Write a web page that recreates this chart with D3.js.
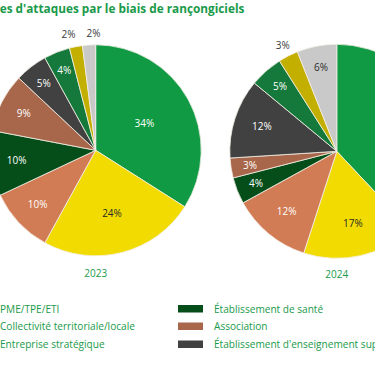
<!DOCTYPE html>
<html><head><meta charset="utf-8">
<script src="https://cdn.jsdelivr.net/npm/d3@7"></script>
<style>
html,body{margin:0;padding:0;background:#fff;overflow:hidden}
svg{display:block}
text{font-family:"Open Sans",sans-serif}
</style></head>
<body>
<svg id="c" width="375" height="366"></svg>
<script>
const titleText = "es d'attaques par le biais de rançongiciels";
const years = ["2023", "2024"];
const categories = ["PME/TPE/ETI", "Collectivité territoriale/locale", "Entreprise stratégique",
  "Établissement de santé", "Association", "Établissement d'enseignement supérieur",
  "Autre (1)", "Autre (2)", "Autre (3)"];
const values2023 = [34, 24, 10, 10, 9, 5, 4, 2, 2];
const values2024 = [38, 17, 12, 4, 3, 12, 5, 3, 6];
const colors = ["#0f9a43", "#f1db00", "#d27c55", "#054e1a", "#a8674a", "#414141", "#14793a", "#c2af00", "#c9c9c9"];
const visibleLegend = 6;

const svg = d3.select("#c");
const green = "#1a9a4a";

svg.append("text").attr("x", -0.3).attr("y", 12.5)
  .attr("font-size", 11.8).attr("font-weight", 700).attr("fill", green)
  .text(titleText);

const pies = [
  {year: years[0], values: values2023, cx: 95.7, cy: 150.3, r: 105.5},
  {year: years[1], values: values2024, cx: 336.8, cy: 151.3, r: 107}
];
const pie = d3.pie().sort(null).value(d => d);

pies.forEach(p => {
  const g = svg.append("g").attr("transform", `translate(${p.cx},${p.cy})`);
  const arcs = pie(p.values);
  const arc = d3.arc().innerRadius(0).outerRadius(p.r);
  g.selectAll("path").data(arcs).join("path")
    .attr("d", arc)
    .attr("fill", (d, i) => colors[i])
    .attr("stroke", "#f4efe6").attr("stroke-width", 0.8);
  const labels = arcs.map((d, i) => {
    const light = d3.lab(colors[i]).l > 65;
    const outside = d.data <= 3 && light;
    const lr = outside ? p.r + 12 : p.r * (0.85 - 0.0095 * d.data);
    const [x, y] = d3.arc().innerRadius(lr).outerRadius(lr).centroid(d);
    return {x, y, outside, light, text: d.data + "%"};
  });
  // spread neighbouring outside labels so they do not crowd
  const outs = labels.filter(l => l.outside).sort((a, b) => a.x - b.x);
  for (let k = 1; k < outs.length; k++) {
    const gap = outs[k].x - outs[k - 1].x;
    if (gap < 25) { const s = (25 - gap) / 2; outs[k - 1].x -= s; outs[k].x += s; }
  }
  labels.forEach(l => {
    g.append("text").attr("x", l.x).attr("y", l.y).attr("dy", "0.35em")
      .attr("text-anchor", "middle").attr("font-size", 10)
      .attr("fill", l.outside ? "#3a3a3a" : (l.light ? "#2b2b2b" : "#ffffff"))
      .text(l.text);
  });
  svg.append("text").attr("x", p.cx).attr("y", p.cy + 127)
    .attr("text-anchor", "middle").attr("font-size", 10).attr("fill", green)
    .text(p.year);
});

// legend (column-major, 3 rows)
const legX = d3.scaleOrdinal().domain([0, 1, 2]).range([-36, 178, 392]);
const legY = d3.scaleOrdinal().domain([0, 1, 2]).range([305, 322.5, 340.5]);
categories.slice(0, visibleLegend).forEach((c, i) => {
  const col = Math.floor(i / 3), row = i % 3;
  const x = legX(col), y = legY(row);
  svg.append("rect").attr("x", x).attr("y", y).attr("width", 25).attr("height", 7.5)
    .attr("fill", colors[i]);
  svg.append("text").attr("x", x + 36).attr("y", y + 7.5)
    .attr("font-size", 10.1).attr("fill", green).text(c);
});
</script>
</body></html>
